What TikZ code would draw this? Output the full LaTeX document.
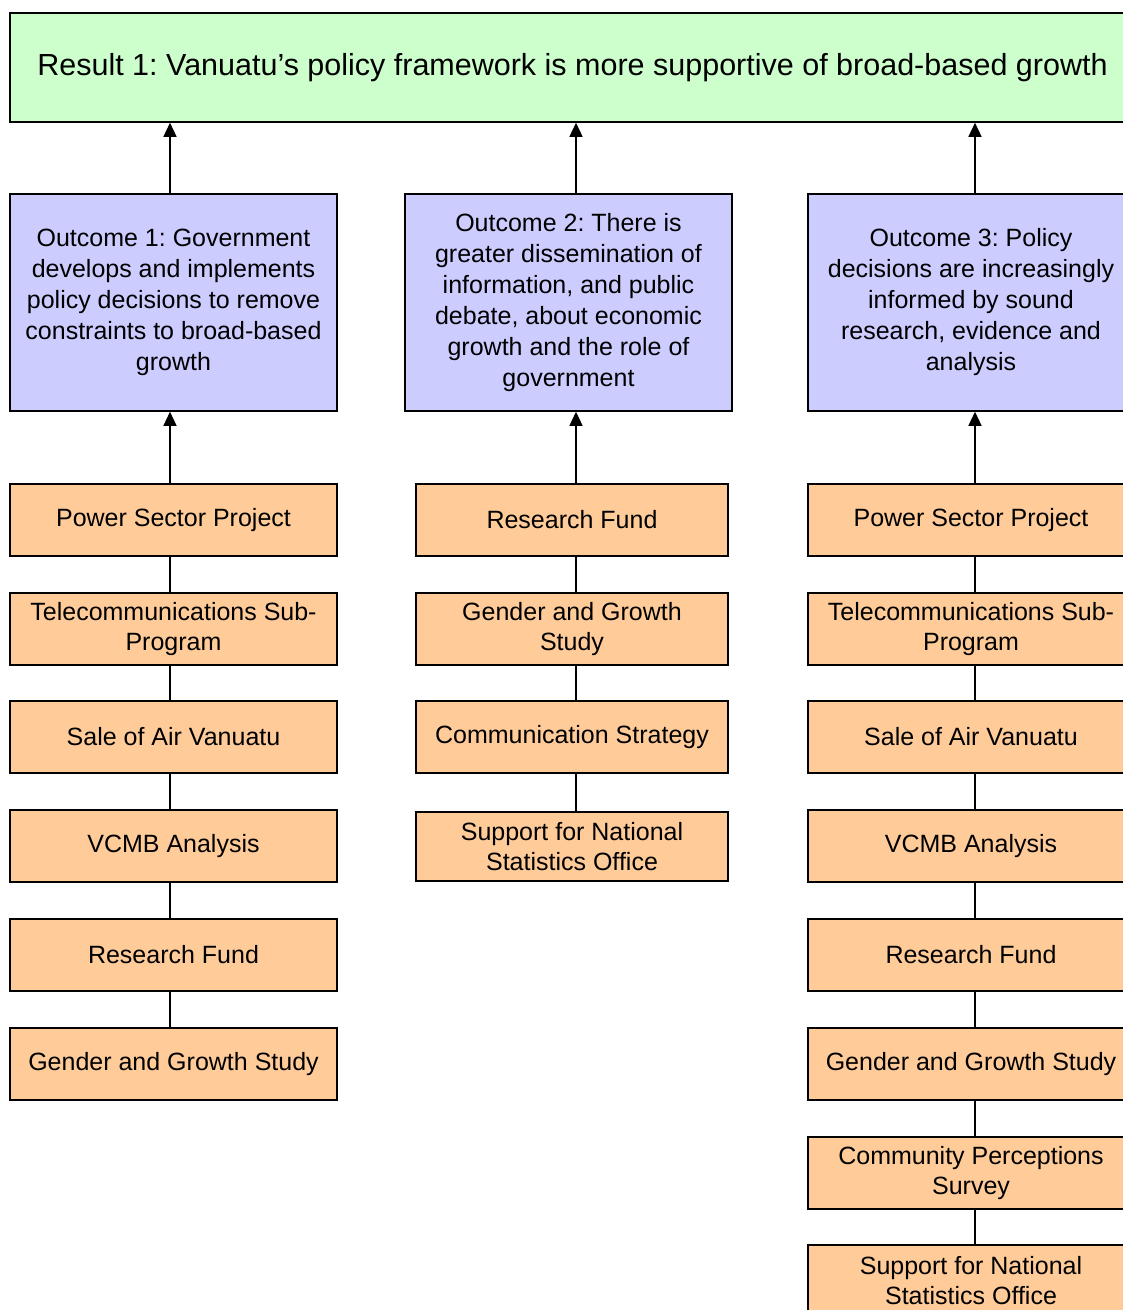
\documentclass[tikz,border=0pt]{standalone}
\usepackage{fontspec}
\setmainfont{Liberation Sans}
\usetikzlibrary{arrows.meta}
\definecolor{resgreen}{HTML}{CCFFCC}
\definecolor{outblue}{HTML}{CCCCFF}
\definecolor{actorange}{HTML}{FFCC99}
\tikzset{
  box/.style={draw=black, line width=1.5pt, align=center, inner sep=2pt},
  resbox/.style={box, fill=resgreen, font=\fontsize{30.5}{36}\selectfont},
  outbox/.style={box, fill=outblue, minimum height=217pt, font=\fontsize{25}{31}\selectfont},
  actbox/.style={box, fill=actorange, minimum height=72pt, font=\fontsize{25}{30}\selectfont},
  arr/.style={draw=black, line width=1.2pt, -{Triangle[length=14pt,width=13pt]}},
  link/.style={draw=black, line width=1.2pt}
}
\begin{document}
\frenchspacing
\begin{tikzpicture}[x=1pt,y=-1pt]
\useasboundingbox (0,0) rectangle (1123,1310);
\clip (0,0) rectangle (1123,1310);
% result
\node[resbox, minimum width=1125pt, minimum height=109pt] (r) at (572.5,67.5) {Result 1: Vanuatu’s policy framework is more supportive of broad-based growth};
% outcomes
\node[outbox, minimum width=327pt] (o1) at (173.5,302.5) {Outcome 1: Government\\develops and implements\\policy decisions to remove\\constraints to broad-based\\growth};
\node[outbox, minimum width=327pt] (o2) at (568.5,302.5) {Outcome 2: There is\\greater dissemination of\\information, and public\\debate, about economic\\growth and the role of\\government};
\node[outbox, minimum width=326pt] (o3) at (971,302.5) {Outcome 3: Policy\\decisions are increasingly\\informed by sound\\research, evidence and\\analysis};
% column 1
\node[actbox, minimum width=327pt] (a1) at (173.5,520) {Power Sector Project};
\node[actbox, minimum width=327pt] (a2) at (173.5,629) {Telecommunications Sub-\\Program};
\node[actbox, minimum width=327pt] (a3) at (173.5,737) {Sale of Air Vanuatu};
\node[actbox, minimum width=327pt] (a4) at (173.5,846) {VCMB Analysis};
\node[actbox, minimum width=327pt] (a5) at (173.5,955) {Research Fund};
\node[actbox, minimum width=327pt] (a6) at (173.5,1064) {Gender and Growth Study};
% column 2
\node[actbox, minimum width=312pt] (b1) at (572,520) {Research Fund};
\node[actbox, minimum width=312pt] (b2) at (572,629) {Gender and Growth\\Study};
\node[actbox, minimum width=312pt] (b3) at (572,737) {Communication Strategy};
\node[actbox, minimum width=312pt, minimum height=69pt] (b4) at (572,846.5) {Support for National\\Statistics Office};
% column 3
\node[actbox, minimum width=326pt] (c1) at (971,520) {Power Sector Project};
\node[actbox, minimum width=326pt] (c2) at (971,629) {Telecommunications Sub-\\Program};
\node[actbox, minimum width=326pt] (c3) at (971,737) {Sale of Air Vanuatu};
\node[actbox, minimum width=326pt] (c4) at (971,846) {VCMB Analysis};
\node[actbox, minimum width=326pt] (c5) at (971,955) {Research Fund};
\node[actbox, minimum width=326pt] (c6) at (971,1064) {Gender and Growth Study};
\node[actbox, minimum width=326pt] (c7) at (971,1173) {Community Perceptions\\Survey};
\node[actbox, minimum width=326pt] (c8) at (971,1281) {Support for National\\Statistics Office};
% connector x positions
\coordinate (xa) at (170,0);
\coordinate (xb) at (576,0);
\coordinate (xc) at (975,0);
% arrows to result
\draw[arr] (o1.north -| xa) -- (r.south -| xa);
\draw[arr] (o2.north -| xb) -- (r.south -| xb);
\draw[arr] (o3.north -| xc) -- (r.south -| xc);
% arrows to outcomes
\draw[arr] (a1.north -| xa) -- (o1.south -| xa);
\draw[arr] (b1.north -| xb) -- (o2.south -| xb);
\draw[arr] (c1.north -| xc) -- (o3.south -| xc);
% links
\foreach \p/\q in {a1/a2,a2/a3,a3/a4,a4/a5,a5/a6}
  \draw[link] (\p.south -| xa) -- (\q.north -| xa);
\foreach \p/\q in {b1/b2,b2/b3,b3/b4}
  \draw[link] (\p.south -| xb) -- (\q.north -| xb);
\foreach \p/\q in {c1/c2,c2/c3,c3/c4,c4/c5,c5/c6,c6/c7,c7/c8}
  \draw[link] (\p.south -| xc) -- (\q.north -| xc);
\end{tikzpicture}
\end{document}
